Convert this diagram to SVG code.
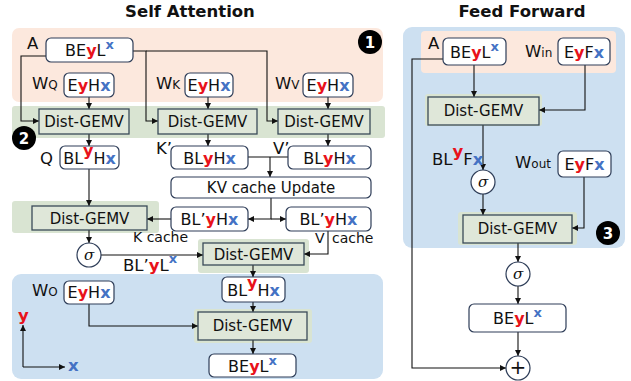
<svg xmlns="http://www.w3.org/2000/svg" width="631" height="381" viewBox="0 0 631 381">
<defs>
<marker id="ah" markerWidth="6" markerHeight="6" refX="6" refY="3" orient="auto" markerUnits="userSpaceOnUse"><path d="M0,0 L6,3 L0,6 z" fill="#111"/></marker>
<style>
text{font-family:"DejaVu Sans","Liberation Sans",sans-serif;fill:#111}
.title{font-weight:bold;font-size:16.5px;text-anchor:middle}
.pink{fill:#fce8dd}
.blue{fill:#cde0f1}
.band{fill:#d9e4d2}
.gemv rect{fill:#dfe7d9;stroke:#3a4a58;stroke-width:1.3}
.gemv text{font-size:15px;text-anchor:middle}
.node rect{fill:#fff;stroke:#2e3d58;stroke-width:1.2}
.node text{font-size:16px;text-anchor:middle}
.lbl{font-size:16.5px}
.sub{font-size:12px}
.sm{font-size:14px}
.r{fill:#e8121a;font-weight:bold}
.b{fill:#4472c4;font-weight:bold}
.bs{fill:#4472c4;font-weight:bold;font-size:13px}
.op circle{fill:#fff;stroke:#2e3d58;stroke-width:1.2}
.op text{font-family:"DejaVu Serif",serif;font-style:italic;font-size:15px;text-anchor:middle}
.num circle{fill:#000}
.num text{fill:#fff;font-weight:bold;font-size:15px;text-anchor:middle}
#connectors path{fill:none;stroke:#111;stroke-width:1.1}
</style>
</defs>
<rect width="631" height="381" fill="#fff"/>
<text class="title" x="190" y="17">Self Attention</text>
<text class="title" x="522" y="17">Feed Forward</text>
<g id="panels">
<rect class="pink" x="12" y="28" width="371" height="74" rx="7"/>
<rect class="band" x="12" y="106" width="373" height="32" rx="3"/>
<rect class="band" x="12" y="201" width="147" height="32" rx="3"/>
<rect class="blue" x="12" y="274" width="371" height="105" rx="9"/>
<rect class="band" x="198" y="239" width="111" height="34" rx="3"/>
<rect class="band" x="194" y="309" width="118" height="34" rx="3"/>
<rect class="blue" x="403" y="27" width="222" height="221" rx="9"/>
<rect class="pink" x="421" y="31" width="195" height="42" rx="4"/>
<rect class="band" x="425" y="94" width="117" height="32" rx="3"/>
<rect class="band" x="458" y="212" width="119" height="33" rx="3"/>
</g>
<g id="connectors">
<path d="M46,56 H21 V121 H39" marker-end="url(#ah)"/>
<path d="M133,51 H146 V121 H158" marker-end="url(#ah)"/>
<path d="M146,51 H267 V121 H278" marker-end="url(#ah)"/>
<path d="M89,97 V109" marker-end="url(#ah)"/>
<path d="M208,96 V109" marker-end="url(#ah)"/>
<path d="M328,97 V109" marker-end="url(#ah)"/>
<path d="M89,134 V146" marker-end="url(#ah)"/>
<path d="M208,134 V146" marker-end="url(#ah)"/>
<path d="M328,134 V146" marker-end="url(#ah)"/>
<path d="M248,157 H288"/>
<path d="M270,157 V177" marker-end="url(#ah)"/>
<path d="M271,198 V219 H248" marker-end="url(#ah)"/>
<path d="M271,219 H286" marker-end="url(#ah)"/>
<path d="M171,219 H147" marker-end="url(#ah)"/>
<path d="M89,169 V206" marker-end="url(#ah)"/>
<path d="M89,230 V243" marker-end="url(#ah)"/>
<path d="M101,255 H203" marker-end="url(#ah)"/>
<path d="M328,231 V254 H304" marker-end="url(#ah)"/>
<path d="M253,265 V277" marker-end="url(#ah)"/>
<path d="M253,302 V312" marker-end="url(#ah)"/>
<path d="M89,304 V326 H198" marker-end="url(#ah)"/>
<path d="M253,340 V354" marker-end="url(#ah)"/>
<path d="M23,367 V325" marker-end="url(#ah)"/>
<path d="M23,367 H65" marker-end="url(#ah)"/>
<path d="M474,65 V97" marker-end="url(#ah)"/>
<path d="M585,65 V110 H539" marker-end="url(#ah)"/>
<path d="M443,59 H412 V368 H506" marker-end="url(#ah)"/>
<path d="M483,125 V170" marker-end="url(#ah)"/>
<path d="M483,194 V215" marker-end="url(#ah)"/>
<path d="M584,177 V228 H572" marker-end="url(#ah)"/>
<path d="M518,243 V262" marker-end="url(#ah)"/>
<path d="M518,286 V304" marker-end="url(#ah)"/>
<path d="M518,332 V356" marker-end="url(#ah)"/>
</g>
<g id="labels">
<text class="lbl" x="27" y="49">A</text>
<text class="lbl" x="32" y="89">W<tspan class="sub">Q</tspan></text>
<text class="lbl" x="156" y="89">W<tspan class="sub">K</tspan></text>
<text class="lbl" x="275" y="89">W<tspan class="sub">V</tspan></text>
<text class="lbl" x="40" y="164">Q</text>
<text class="lbl" x="156" y="154">K’</text>
<text class="lbl" x="273" y="154">V’</text>
<text class="sm" x="133" y="242">K cache</text>
<text class="sm" x="315" y="243">V<tspan x="332">cache</tspan></text>
<text class="lbl" x="123" y="271">BL’<tspan class="r">y</tspan>L<tspan class="bs" dy="-8">x</tspan></text>
<text class="lbl" x="32" y="296">W<tspan class="sub">O</tspan></text>
<text class="lbl r" x="18" y="321">y</text>
<text class="lbl b" x="68" y="371">x</text>
<text class="lbl" x="428" y="49">A</text>
<text class="lbl" x="525" y="57">W<tspan class="sub">in</tspan></text>
<text class="lbl" x="432" y="165">BL<tspan class="r" dy="-8">y</tspan><tspan dy="8">F</tspan><tspan class="b">x</tspan></text>
<text class="lbl" x="515" y="168">W<tspan class="sub">out</tspan></text>
</g>
<g id="n_sa_in" class="node"><rect x="46" y="38" width="87" height="24" rx="5"/><text x="89.5" y="56">BE<tspan class="r">y</tspan>L<tspan class="bs" dy="-7">x</tspan></text></g>
<g id="n_wq" class="node"><rect x="64" y="73" width="50" height="24" rx="5"/><text x="89" y="91">E<tspan class="r">y</tspan>H<tspan class="b">x</tspan></text></g>
<g id="n_wk" class="node"><rect x="185" y="73" width="48" height="24" rx="5"/><text x="209" y="91">E<tspan class="r">y</tspan>H<tspan class="b">x</tspan></text></g>
<g id="n_wv" class="node"><rect x="303" y="73" width="50" height="24" rx="5"/><text x="328" y="91">E<tspan class="r">y</tspan>H<tspan class="b">x</tspan></text></g>
<g id="g_q" class="gemv"><rect x="39" y="109" width="90" height="25"/><text x="84" y="127">Dist-GEMV</text></g>
<g id="g_k" class="gemv"><rect x="158" y="109" width="99" height="25"/><text x="207.5" y="127">Dist-GEMV</text></g>
<g id="g_v" class="gemv"><rect x="278" y="109" width="92" height="25"/><text x="324" y="127">Dist-GEMV</text></g>
<g id="n_q" class="node"><rect x="60" y="146" width="59" height="23" rx="5"/><text x="89.5" y="164">BL<tspan class="r" dy="-8">y</tspan><tspan dy="8">H</tspan><tspan class="b">x</tspan></text></g>
<g id="n_k" class="node"><rect x="171" y="146" width="77" height="23" rx="5"/><text x="209.5" y="164">BL<tspan class="r">y</tspan>H<tspan class="b">x</tspan></text></g>
<g id="n_v" class="node"><rect x="288" y="146" width="83" height="23" rx="5"/><text x="329.5" y="164">BL<tspan class="r">y</tspan>H<tspan class="b">x</tspan></text></g>
<g id="n_kvu" class="node"><rect x="171" y="177" width="200" height="21" rx="5"/><text x="271" y="193" style="font-size:15px">KV cache Update</text></g>
<g id="n_kc" class="node"><rect x="171" y="207" width="77" height="24" rx="5"/><text x="209.5" y="225">BL’<tspan class="r">y</tspan>H<tspan class="b">x</tspan></text></g>
<g id="n_vc" class="node"><rect x="286" y="207" width="85" height="24" rx="5"/><text x="328.5" y="225">BL’<tspan class="r">y</tspan>H<tspan class="b">x</tspan></text></g>
<g id="g_qk" class="gemv"><rect x="32" y="206" width="115" height="24"/><text x="89.5" y="223.5">Dist-GEMV</text></g>
<g id="op_s1" class="op"><circle cx="89" cy="255" r="12"/><text x="89" y="260">σ</text></g>
<g id="g_sv" class="gemv"><rect x="203" y="243" width="101" height="22"/><text x="253.5" y="259.5">Dist-GEMV</text></g>
<g id="n_wo" class="node"><rect x="64" y="281" width="50" height="23" rx="5"/><text x="89" y="298">E<tspan class="r">y</tspan>H<tspan class="b">x</tspan></text></g>
<g id="n_att" class="node"><rect x="222" y="277" width="63" height="25" rx="5"/><text x="253.5" y="296">BL<tspan class="r" dy="-8">y</tspan><tspan dy="8">H</tspan><tspan class="b">x</tspan></text></g>
<g id="g_o" class="gemv"><rect x="198" y="312" width="109" height="28"/><text x="252.5" y="331">Dist-GEMV</text></g>
<g id="n_sa_out" class="node"><rect x="209" y="354" width="87" height="23" rx="5"/><text x="252.5" y="372">BE<tspan class="r">y</tspan>L<tspan class="bs" dy="-7">x</tspan></text></g>
<g id="n_ff_in" class="node"><rect x="443" y="38" width="63" height="27" rx="5"/><text x="474.5" y="58">BE<tspan class="r">y</tspan>L<tspan class="bs" dy="-7">x</tspan></text></g>
<g id="n_win" class="node"><rect x="558" y="38" width="52" height="27" rx="5"/><text x="584" y="58">E<tspan class="r">y</tspan>F<tspan class="b">x</tspan></text></g>
<g id="g_in" class="gemv"><rect x="428" y="97" width="111" height="28"/><text x="483.5" y="116">Dist-GEMV</text></g>
<g id="op_s2" class="op"><circle cx="483" cy="182" r="12"/><text x="483" y="187">σ</text></g>
<g id="n_wout" class="node"><rect x="558" y="151" width="53" height="26" rx="5"/><text x="584.5" y="170">E<tspan class="r">y</tspan>F<tspan class="b">x</tspan></text></g>
<g id="g_out" class="gemv"><rect x="463" y="215" width="109" height="28"/><text x="517.5" y="234">Dist-GEMV</text></g>
<g id="op_s3" class="op"><circle cx="518" cy="274" r="12"/><text x="518" y="279">σ</text></g>
<g id="n_ff_out" class="node"><rect x="469" y="304" width="97" height="28" rx="5"/><text x="517.5" y="324">BE<tspan class="r">y</tspan>L<tspan class="bs" dy="-7">x</tspan></text></g>
<g id="op_add" class="op"><circle cx="518" cy="368" r="12"/><text x="518" y="374" style="font-style:normal;font-family:'DejaVu Sans',sans-serif;font-size:20px">+</text></g>
<g id="num1" class="num"><circle cx="370" cy="42" r="12"/><text x="370" y="47.5">1</text></g>
<g id="num2" class="num"><circle cx="24" cy="138" r="12"/><text x="24" y="143.5">2</text></g>
<g id="num3" class="num"><circle cx="608" cy="233" r="12"/><text x="608" y="238.5">3</text></g>
</svg>
